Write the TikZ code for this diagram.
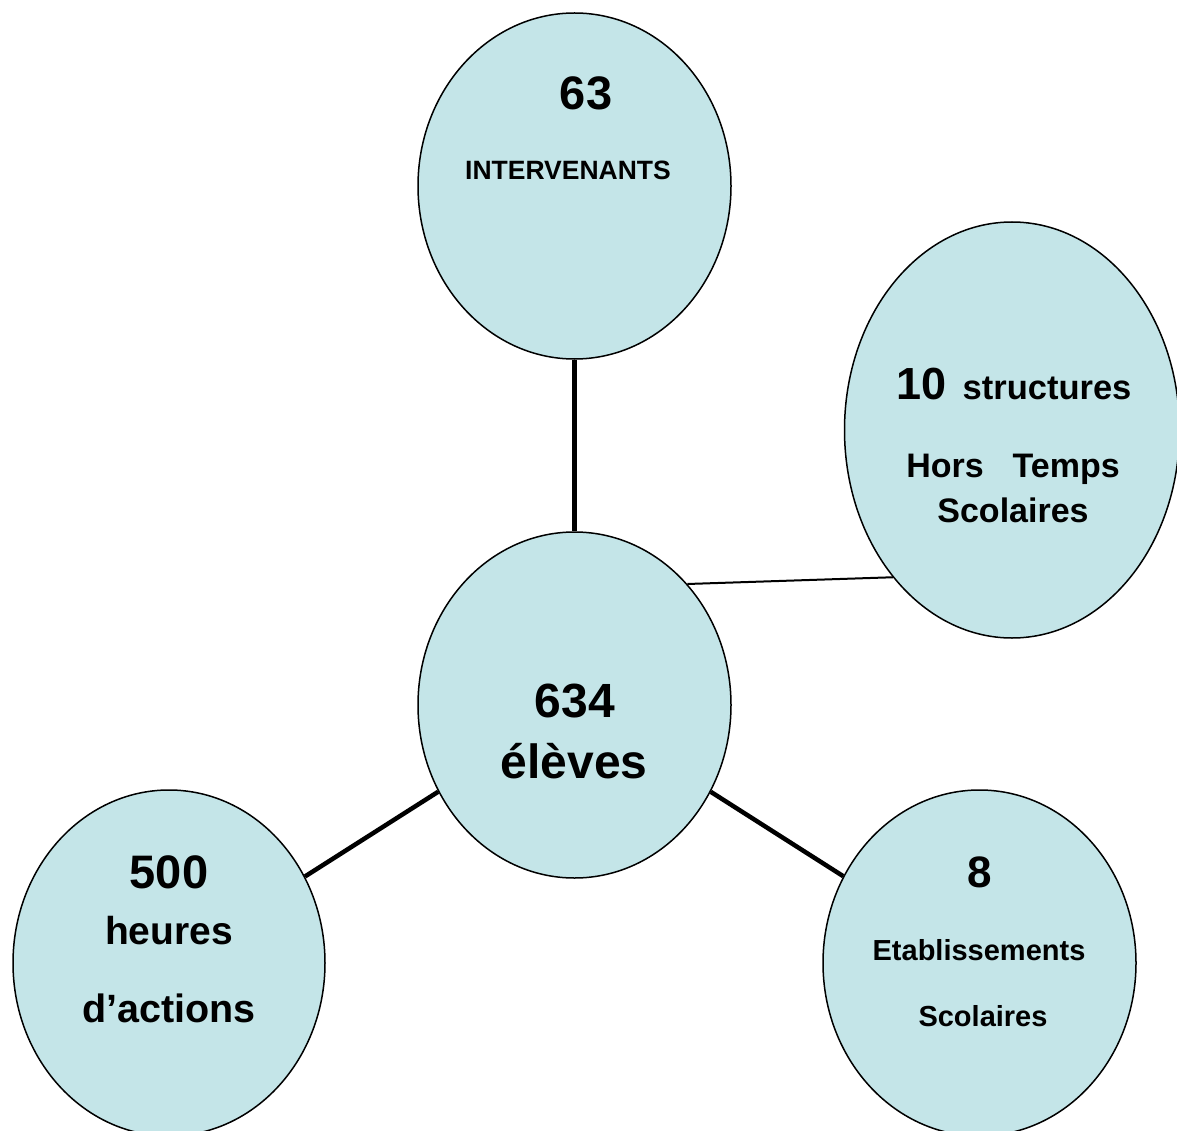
\documentclass[tikz,border=0pt]{standalone}
\usepackage{fontspec}
\setmainfont{Liberation Sans}
\usetikzlibrary{shapes.geometric}
\definecolor{bubble}{RGB}{196,229,232}
\newcommand{\fs}[1]{\fontsize{#1}{#1}\selectfont\bfseries}
\begin{document}
\begin{tikzpicture}[x=1pt,y=-1pt,
  bub/.style={ellipse,draw=black,line width=1.5pt,fill=bubble,inner sep=0pt},
  txt/.style={anchor=base,inner sep=0pt,outer sep=0pt},
  thickline/.style={line width=4.5pt},
  thinline/.style={line width=2pt}]
\useasboundingbox (0,0) rectangle (1177,1131);
\clip (0,0) rectangle (1177,1131);
\node[bub,minimum width=313pt,minimum height=346pt] (top) at (574.5,186) {};
\node[bub,minimum width=335pt,minimum height=416pt] (rt) at (1012,430) {};
\node[bub,minimum width=313pt,minimum height=346pt] (ctr) at (574.5,705) {};
\node[bub,minimum width=312pt,minimum height=346pt] (lft) at (169,963) {};
\node[bub,minimum width=313pt,minimum height=346pt] (br) at (979.5,963) {};
\draw[thickline] (top) -- (ctr);
\draw[thinline] (ctr.47.7) -- (rt.231);
\draw[thickline] (ctr) -- (lft);
\draw[thickline] (ctr) -- (br);
% texts
\node[txt] (t63) at (586,110) {\fs{47}63};
\node[txt] (tint) at (568,180) {\fs{26.5}INTERVENANTS};
\node[txt] (t10) at (1014,399) {{\fs{45}10}\hspace{16pt}{\fs{34.5}structures}};
\node[txt] (thors) at (1013,477) {\fs{34}Hors\hspace{29pt}Temps};
\node[txt] (tsco1) at (1013,522) {\fs{34}Scolaires};
\node[txt] (t634) at (575,717) {\fs{48}634};
\node[txt] (telev) at (574,778) {\fs{48}élèves};
\node[txt] (t500) at (169,888) {\fs{47}500};
\node[txt] (theur) at (169,944) {\fs{39}heures};
\node[txt] (tact) at (169,1022) {\fs{39.5}d’actions};
\node[txt] (t8) at (980,887) {\fs{44}8};
\node[txt] (tetab) at (979,960) {\fs{29}Etablissements};
\node[txt] (tsco2) at (983,1026) {\fs{29}Scolaires};
\end{tikzpicture}
\end{document}
